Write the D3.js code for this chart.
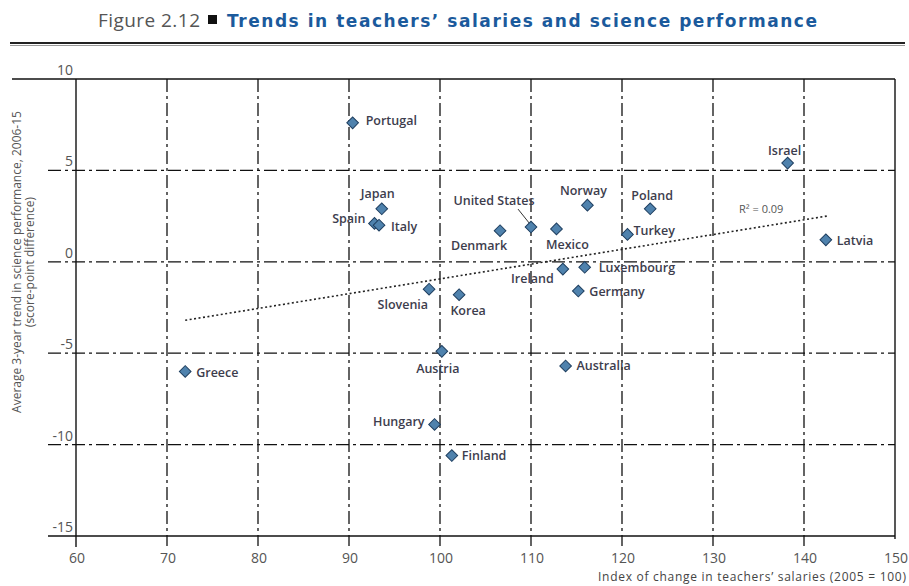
<!DOCTYPE html>
<html>
<head>
<meta charset="utf-8">
<script src="https://cdn.jsdelivr.net/npm/d3@7"></script>
<style>
  body { margin: 0; background: #fff; }
  svg { display: block; font-family: "Open Sans", "DejaVu Sans", sans-serif; }
</style>
</head>
<body>
<svg id="chart" width="909" height="586"></svg>
<script>
// data
var countries = ["Portugal", "Japan", "Spain", "Italy", "United States", "Norway", "Denmark",
                 "Mexico", "Israel", "Poland", "Turkey", "Latvia", "Ireland", "Luxembourg",
                 "Germany", "Slovenia", "Korea", "Austria", "Australia", "Greece", "Hungary", "Finland"];
var salaryIndex = [90.4, 93.6, 92.8, 93.3, 110.0, 116.2, 106.6,
                   112.8, 138.2, 123.1, 120.6, 142.4, 113.5, 115.9,
                   115.2, 98.8, 102.1, 100.2, 113.8, 72.0, 99.4, 101.3];
var scienceTrend = [7.6, 2.9, 2.1, 2.0, 1.9, 3.1, 1.7,
                    1.8, 5.4, 2.9, 1.5, 1.2, -0.4, -0.3,
                    -1.6, -1.5, -1.8, -4.9, -5.7, -6.0, -8.9, -10.6];
var trendX = [72, 142.5];
var trendY = [-3.2, 2.5];
var xTicks = [60, 70, 80, 90, 100, 110, 120, 130, 140, 150];
var yTicks = [-15, -10, -5, 0, 5, 10];

// label placement: anchor, dx, dy (pixels from the marker)
var labelPos = {
  "Portugal": ["start", 13, -2], "Japan": ["middle", -4, -15], "Spain": ["end", -9, -5],
  "Italy": ["start", 12, 1], "United States": ["middle", -37, -26], "Norway": ["middle", -4, -15],
  "Denmark": ["end", 7, 15], "Mexico": ["middle", 11, 16], "Israel": ["middle", -3, -12],
  "Poland": ["middle", 2, -13], "Turkey": ["start", 6, -4], "Latvia": ["start", 11, 1],
  "Ireland": ["end", -9, 10], "Luxembourg": ["start", 14, 0], "Germany": ["start", 11, 1],
  "Slovenia": ["end", -1, 15], "Korea": ["middle", 9, 16], "Austria": ["middle", -4, 17],
  "Australia": ["start", 11, 0], "Greece": ["start", 11, 1], "Hungary": ["end", -10, -3],
  "Finland": ["start", 10, 0]
};

var points = countries.map(function(c, i) {
  return {name: c, x: salaryIndex[i], y: scienceTrend[i]};
});

var svg = d3.select("svg#chart");

var x = d3.scaleLinear().domain([60, 150]).range([76, 895]);
var y = d3.scaleLinear().domain([-15, 10]).range([536, 79]);

// title
svg.append("text")
  .attr("x", 98).attr("y", 27)
  .attr("font-size", "19px")
  .attr("fill", "#555")
  .attr("textLength", 102)
  .text("Figure 2.12");
svg.append("rect")
  .attr("x", 208).attr("y", 15).attr("width", 9).attr("height", 9)
  .attr("fill", "#111");
svg.append("text")
  .attr("x", 227).attr("y", 27)
  .attr("font-family", "'DejaVu Sans', sans-serif")
  .attr("font-size", "17px")
  .attr("font-weight", "bold")
  .attr("fill", "#1b5a9c")
  .attr("textLength", 590)
  .text("Trends in teachers\u2019 salaries and science performance");

svg.append("line").attr("x1", 10).attr("x2", 905).attr("y1", 43).attr("y2", 43)
  .attr("stroke", "#222").attr("stroke-width", 2);
svg.append("line").attr("x1", 10).attr("x2", 905).attr("y1", 45.5).attr("y2", 45.5)
  .attr("stroke", "#999").attr("stroke-width", 1);

// grid lines (dash-dot)
var grid = svg.append("g").attr("class", "grid")
  .attr("stroke", "#111").attr("stroke-width", 1.3)
  .attr("stroke-dasharray", "13,4,3,4");

grid.selectAll("line.v")
  .data(xTicks.filter(function(d) { return d > 60 && d < 150; }))
  .enter().append("line")
    .attr("class", "v")
    .attr("x1", function(d) { return x(d); })
    .attr("x2", function(d) { return x(d); })
    .attr("y1", y(10))
    .attr("y2", y(-15) + 10);

grid.selectAll("line.h")
  .data(yTicks.filter(function(d) { return d > -15 && d < 10; }))
  .enter().append("line")
    .attr("class", "h")
    .attr("x1", x(60) - 28)
    .attr("x2", x(150))
    .attr("y1", function(d) { return y(d); })
    .attr("y2", function(d) { return y(d); });

// solid frame lines
var frame = svg.append("g").attr("stroke", "#111").attr("stroke-width", 1.4);
frame.append("line").attr("x1", 12).attr("x2", x(150)).attr("y1", y(10)).attr("y2", y(10));
frame.append("line").attr("x1", x(60) - 28).attr("x2", x(150)).attr("y1", y(-15)).attr("y2", y(-15));
frame.append("line").attr("x1", x(60)).attr("x2", x(60)).attr("y1", y(10)).attr("y2", y(-15) + 11);
frame.append("line").attr("x1", x(150)).attr("x2", x(150)).attr("y1", y(10)).attr("y2", y(-15) + 3);

// tick labels
svg.append("g").selectAll("text")
  .data(xTicks)
  .enter().append("text")
    .attr("x", function(d) { return x(d) + 1; })
    .attr("y", 563)
    .attr("text-anchor", "middle")
    .attr("font-size", "14px")
    .attr("fill", "#555")
    .text(function(d) { return d; });

svg.append("g").selectAll("text")
  .data(yTicks)
  .enter().append("text")
    .attr("x", x(60) - 3)
    .attr("y", function(d) { return y(d) - 4; })
    .attr("text-anchor", "end")
    .attr("font-size", "14px")
    .attr("fill", "#555")
    .text(function(d) { return d; });

// axis titles
svg.append("text")
  .attr("x", 598).attr("y", 581)
  .attr("font-size", "12px")
  .attr("fill", "#444")
  .attr("textLength", 308)
  .text("Index of change in teachers\u2019 salaries (2005 = 100)");

var ytitle = svg.append("text")
  .attr("transform", "translate(21," + 262 + ") rotate(-90)")
  .attr("text-anchor", "middle")
  .attr("font-size", "12px")
  .attr("fill", "#555");
ytitle.append("tspan").attr("x", 0).attr("y", 0)
  .text("Average 3-year trend in science performance, 2006-15");
ytitle.append("tspan").attr("x", 0).attr("y", 13)
  .text("(score-point difference)");

// trend line
svg.append("line")
  .attr("x1", x(trendX[0])).attr("y1", y(trendY[0]))
  .attr("x2", x(trendX[1])).attr("y2", y(trendY[1]))
  .attr("stroke", "#222").attr("stroke-width", 1.6)
  .attr("stroke-dasharray", "2,2.5");

svg.append("text")
  .attr("x", x(135.3)).attr("y", y(2.87))
  .attr("dy", "0.35em")
  .attr("text-anchor", "middle")
  .attr("font-size", "11px")
  .attr("fill", "#555")
  .text("R\u00B2 = 0.09");

// leader line for United States
var us = points[countries.indexOf("United States")];
svg.append("line")
  .attr("x1", x(us.x) - 13).attr("y1", y(us.y) - 18)
  .attr("x2", x(us.x) - 1).attr("y2", y(us.y) - 3)
  .attr("stroke", "#333").attr("stroke-width", 1);

// markers
svg.append("g").selectAll("path")
  .data(points)
  .enter().append("path")
    .attr("d", d3.symbol().type(d3.symbolSquare).size(68))
    .attr("transform", function(d) { return "translate(" + x(d.x) + "," + y(d.y) + ") rotate(45)"; })
    .attr("fill", "#4f82ad")
    .attr("stroke", "#1f3f60")
    .attr("stroke-width", 1);

// country labels
svg.append("g").selectAll("text")
  .data(points)
  .enter().append("text")
    .attr("x", function(d) { return x(d.x) + labelPos[d.name][1]; })
    .attr("y", function(d) { return y(d.y) + labelPos[d.name][2]; })
    .attr("dy", "0.35em")
    .attr("text-anchor", function(d) { return labelPos[d.name][0]; })
    .attr("font-size", "12.5px")
    .attr("font-weight", 600)
    .attr("fill", "#3d3d4d")
    .text(function(d) { return d.name; });
</script>
</body>
</html>
